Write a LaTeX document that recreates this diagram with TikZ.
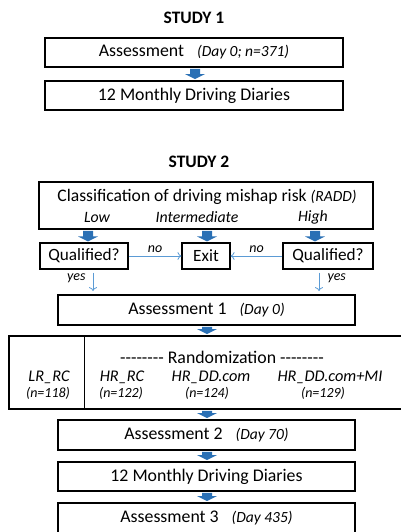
\documentclass[tikz,border=0pt]{standalone}
\usepackage{fontspec}
\setmainfont{Carlito}
\usetikzlibrary{calc,arrows.meta}
\definecolor{blockblue}{HTML}{2A70B5}
\definecolor{thinblue}{HTML}{5B9BD5}
\newcommand{\blockarr}[3]{%
  \coordinate (ba1) at (#1 |- #2.south);
  \coordinate (ba2) at (#1 |- #3.north);
  \fill[blockblue] ($(ba1)+(-5,1)$) -- ($(ba1)+(5,1)$) -- ($(ba2)+(5,-6)$) -- ($(ba2)+(10,-6)$) -- ($(ba2)+(0,-1)$) -- ($(ba2)+(-10,-6)$) -- ($(ba2)+(-5,-6)$) -- cycle;
}
\newcommand{\hyrow}{\mbox{-}\mbox{-}\mbox{-}\mbox{-}\mbox{-}\mbox{-}\mbox{-}\mbox{-}}
\newcommand{\dayit}[1]{\hspace{13pt}{\itshape\fontsize{15.5}{18}\selectfont #1}}
\begin{document}
\begin{tikzpicture}[x=1pt,y=-1pt,
  box/.style={draw=black,line width=1.8pt,minimum width=#1,inner sep=0pt,font=\fontsize{17.8}{21}\selectfont},
  sbox/.style={draw=black,line width=1.1pt,minimum width=#1,minimum height=26,inner sep=0pt,font=\fontsize{17.2}{20}\selectfont},
  title/.style={font=\fontsize{17.5}{21}\selectfont\bfseries},
  lab/.style={font=\fontsize{15.8}{19}\selectfont\itshape},
  grp/.style={font=\fontsize{16.3}{19}\selectfont\itshape},
  small/.style={font=\fontsize{14}{16}\selectfont\itshape},
  thin/.style={draw=thinblue,line width=0.8pt,-{To[length=4pt,width=8pt]}}]
\useasboundingbox (0,0) rectangle (400,532);
\node[title] (s1) at (194,18) {STUDY 1};
\node[box=298,minimum height=29] (b1) at (194,52.5) {Assessment\dayit{(Day 0; n=371)}};
\node[box=298,minimum height=29] (b2) at (194,95.5) {12 Monthly Driving Diaries};
\coordinate (x1) at (195,0);
\blockarr{x1}{b1}{b2}

\node[title] (s2) at (199,162) {STUDY 2};
\node[box=334,minimum height=47] (cl) at (206,205.5) {};
\node (clt) at (207,197) {\fontsize{17.6}{21}\selectfont Classification of driving mishap risk {\itshape\fontsize{15.5}{18}\selectfont (RADD)}};
\node[lab] (low) at (97,217) {Low};
\node[lab] (mid) at (197,217) {Intermediate};
\node[lab] (high) at (313,217) {High};
\node[sbox=88] (ql) at (84,256) {Qualified?};
\node[sbox=48] (ex) at (206,256) {Exit};
\node[sbox=90] (qr) at (328,256) {Qualified?};
\coordinate (xa) at (88,0);
\coordinate (xb) at (207,0);
\coordinate (xc) at (315,0);
\blockarr{xa}{cl}{ql}
\blockarr{xb}{cl}{ex}
\blockarr{xc}{cl}{qr}
\draw[thin] (ql.east) -- node[small,above=0pt] {no} (ex.west);
\draw[thin] (qr.west) -- node[small,above=0pt] {no} (ex.east);

\node[box=297,minimum height=30] (a1) at (206.5,310) {Assessment 1\dayit{(Day 0)}};
\coordinate (ya) at (93,0);
\coordinate (yb) at (319,0);
\draw[thin,shorten <=3pt,shorten >=3pt] (ya |- ql.south) -- (ya |- a1.north);
\draw[thin,shorten <=3pt,shorten >=3pt] (yb |- qr.south) -- (yb |- a1.north);
\node[small,anchor=east] (yl) at (89,278) {yes};
\node[small,anchor=west] (yr) at (324,278) {yes};

\node[box=396,minimum height=73] (rb) at (207,372.5) {};
\draw[line width=1pt] (84,0 |- rb.north) coordinate (dv1) -- (84,0 |- rb.south) coordinate (dv2);
\node (rt) at (222,357) {\fontsize{17.8}{21}\selectfont \hyrow\ Randomization \hyrow};
\node[grp] (g1) at (49,377) {LR\_RC};
\node[small] (n1) at (48,393) {(n=118)};
\node[grp] (g2) at (122,377) {HR\_RC};
\node[small] (n2) at (121,393) {(n=122)};
\node[grp] (g3) at (211,377) {HR\_DD.com};
\node[small] (n3) at (207,393) {(n=124)};
\node[grp] (g4) at (330,377) {HR\_DD.com+MI};
\node[small] (n4) at (323,393) {(n=129)};
\blockarr{xb}{a1}{rb}

\node[box=297,minimum height=30] (a2) at (206.5,435) {Assessment 2\dayit{(Day 70)}};
\node[box=297,minimum height=29] (dd) at (206.5,476.5) {12 Monthly Driving Diaries};
\node[box=297,minimum height=30] (a3) at (206.5,518) {Assessment 3\dayit{(Day 435)}};
\blockarr{xb}{rb}{a2}
\blockarr{xb}{a2}{dd}
\blockarr{xb}{dd}{a3}
\end{tikzpicture}
\end{document}
